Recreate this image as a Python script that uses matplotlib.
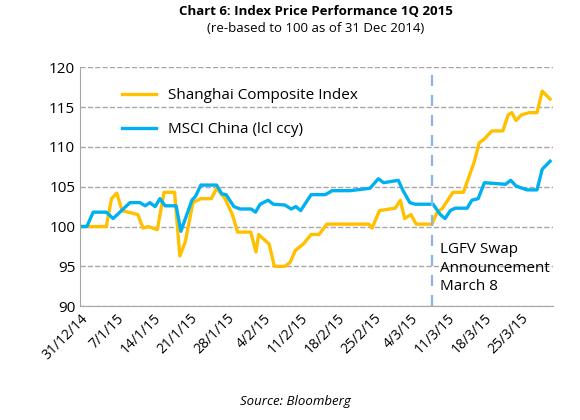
import matplotlib
matplotlib.use("Agg")
import matplotlib.pyplot as plt

plt.rcParams['font.family'] = ['Open Sans', 'DejaVu Sans']

sh_days = [0,5,6,7,8,11,12,13,14.7,16,18,19,20,21.5,23,25,26,27.6,29,30,32.5,33.5,34,36,37,39,40,41,42.5,44,45.5,47,55,55.6,57,60,61,61.8,63,64,67,68,69,71,73,75,76,77,78.4,80.5,81.5,82.2,83,84,85.5,87,88,89.5]
sh_vals = [100,100,103.5,104.2,102,101.5,99.8,100,99.6,104.3,104.3,96.3,98,103,103.5,103.5,104.8,103.5,101.5,99.3,99.3,96.8,99,97.8,95,95,95.5,97,97.8,99,99,100.3,100.3,99.8,102,102.3,103.3,101,101.5,100.3,100.3,101.8,102.3,104.3,104.3,108,110.5,111,112,112,114,114.3,113.3,114,114.3,114.3,117,116]
ms_days = [0,1.3,2.5,5,6.3,9.5,11.4,12.4,13.3,14.3,15.2,16.2,18.3,19.2,21.3,22,23,26,27,27.8,29.3,30.5,32.6,33.4,34.3,35.8,36.8,39,40.2,41.1,42,44,46.7,48,51.4,55.2,56.8,57.8,60.6,61.5,62.8,63.8,67.2,68.6,69.5,70.5,71.4,73.7,74.6,75.8,77,81,82,83,84.2,85.1,87,88,89.5]
ms_vals = [100,100,101.8,101.8,101,103,103,102.6,103,102.5,103.5,102.6,102.6,99.4,103.3,103.8,105.2,105.2,104.1,104,102.5,102.2,102.2,101.8,102.8,103.3,102.8,102.7,102.2,102.5,102,104,104,104.5,104.5,104.8,106,105.5,105.8,104.5,103,102.8,102.8,101.5,101,102,102.3,102.3,103.3,103.5,105.5,105.3,105.8,105.1,104.8,104.6,104.6,107.2,108.2]
tick_days = [0,7,14,21,28,35,42,49,56,63,70,77,84]
tick_labels = ['31/12/14','7/1/15','14/1/15','21/1/15','28/1/15','4/2/15','11/2/15','18/2/15','25/2/15','4/3/15','11/3/15','18/3/15','25/3/15']
swap_day = 67

fig = plt.figure(figsize=(5.8, 4.2), dpi=100)
ax = fig.add_axes([0.138, 0.271, 0.815, 0.569])
yellow = '#FFC000'; blue = '#00B0F0'
ax.plot(sh_days, sh_vals, color=yellow, lw=2.4, label='Shanghai Composite Index')
ax.plot(ms_days, ms_vals, color=blue, lw=2.4, label='MSCI China (lcl ccy)')
ax.axvline(swap_day, color='#8EB4E3', lw=1.6, ls=(0, (5, 4)))
ax.set_xlim(0, 90)
ax.set_ylim(90, 120)
ax.set_yticks(range(90, 121, 5))
ax.yaxis.grid(True, color='#A6A6A6', ls='--', lw=1)
ax.set_xticks(tick_days)
ax.set_xticklabels(tick_labels, rotation=45, ha='right', rotation_mode='anchor', fontsize=10)
ax.tick_params(axis='y', labelsize=11, length=0)
ax.tick_params(axis='x', length=0)
for s in ['top', 'right']:
    ax.spines[s].set_visible(False)
ax.spines['left'].set_color('#A6A6A6')
ax.spines['bottom'].set_color('#A6A6A6')
ax.legend(loc='upper left', bbox_to_anchor=(0.06, 0.97), frameon=False, fontsize=11,
          handlelength=2.2, labelspacing=1.25)
ax.text(68.5, 98, 'LGFV Swap\nAnnouncement\nMarch 8', fontsize=11, va='top', linespacing=1.3)
fig.text(0.545, 0.965, 'Chart 6: Index Price Performance 1Q 2015', ha='center', fontsize=9.5, fontweight='bold')
fig.text(0.545, 0.925, '(re-based to 100 as of 31 Dec 2014)', ha='center', fontsize=9.5)
fig.text(0.51, 0.035, 'Source: Bloomberg', ha='center', fontsize=9.5, style='italic')
fig.savefig('out.png', dpi=100)
